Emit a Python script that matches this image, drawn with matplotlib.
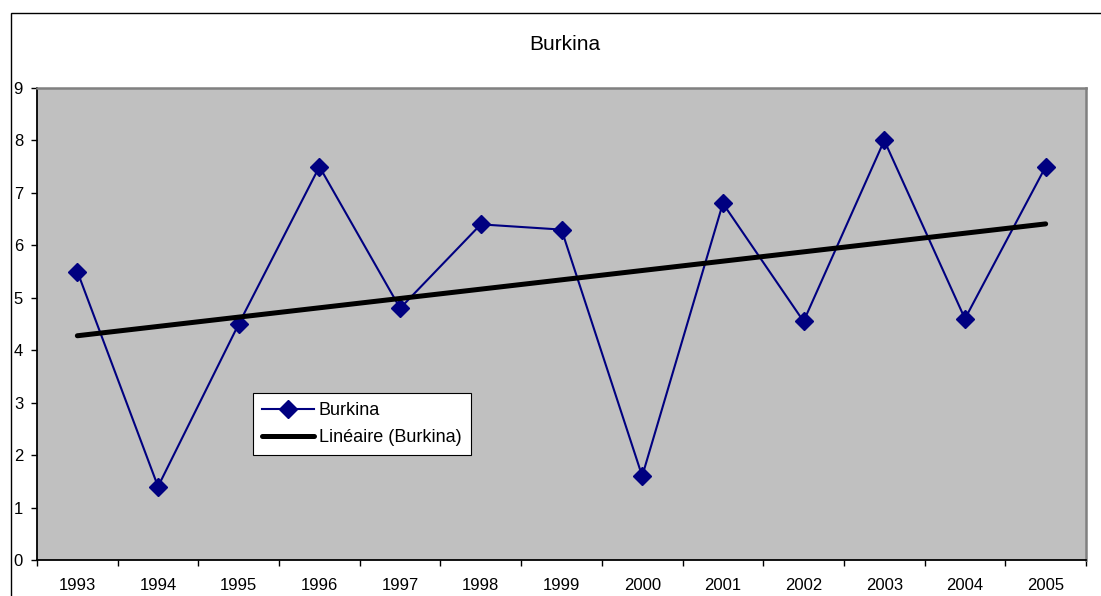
import numpy as np
import matplotlib.pyplot as plt
from matplotlib.patches import Rectangle
from matplotlib.ticker import FixedLocator

plt.rcParams['font.family'] = ['Liberation Sans', 'DejaVu Sans']

years = ['1993', '1994', '1995', '1996', '1997', '1998', '1999',
         '2000', '2001', '2002', '2003', '2004', '2005']
burkina = [5.5, 1.4, 4.5, 7.5, 4.8, 6.4, 6.3, 1.6, 6.8, 4.55, 8.0, 4.6, 7.5]

x = np.arange(len(years))
# linear trend like Excel's "Linéaire"
slope, icpt = np.polyfit(x, burkina, 1)
trend = slope * x + icpt

fig = plt.figure(figsize=(11.01, 5.96), dpi=100)
# outer chart frame
fig.patches.append(Rectangle((11 / 1101, -0.02), 1.1, 1 - 13 / 596 + 0.02,
                             transform=fig.transFigure, fill=False,
                             edgecolor='black', linewidth=1.0))

ax = fig.add_axes([37 / 1101, 36 / 596, (1086 - 37) / 1101, (560 - 88) / 596])
ax.set_facecolor('#c0c0c0')

ax.plot(x, burkina, color='#000080', linewidth=1.5, marker='D',
        markersize=9.5, markerfacecolor='#000080', markeredgecolor='#000080',
        label='Burkina')
ax.plot(x, trend, color='black', linewidth=3.6, solid_capstyle='round',
        label='Linéaire (Burkina)')

ax.set_xlim(-0.5, len(years) - 0.5)
ax.set_ylim(0, 9)
ax.set_yticks(range(0, 10))
ax.tick_params(axis='y', direction='out', length=4, width=1, pad=6,
               labelsize=12)

ax.xaxis.set_major_locator(FixedLocator(np.arange(-0.5, len(years), 1.0)))
ax.xaxis.set_minor_locator(FixedLocator(x))
ax.set_xticklabels([], minor=False)
ax.set_xticklabels(years, minor=True)
ax.tick_params(axis='x', which='major', direction='out', length=4, width=1)
ax.tick_params(axis='x', which='minor', length=0, pad=13, labelsize=12)

for side in ['left', 'bottom']:
    ax.spines[side].set_color('black')
    ax.spines[side].set_linewidth(1.3)
for side in ['top', 'right']:
    ax.spines[side].set_color('#808080')
    ax.spines[side].set_linewidth(1.8)

leg = ax.legend(loc='upper left', bbox_to_anchor=(253 / 1101, 1 - 393 / 596),
                bbox_transform=fig.transFigure, fontsize=13, frameon=True,
                fancybox=False, framealpha=1, edgecolor='black',
                handlelength=2.9, handletextpad=0.25, borderpad=0.5,
                labelspacing=0.55, borderaxespad=0)
leg.get_frame().set_linewidth(0.8)

fig.text(565 / 1101, 1 - 44 / 596, 'Burkina', ha='center', va='center',
         fontsize=15)

fig.savefig('out.png', dpi=100)
